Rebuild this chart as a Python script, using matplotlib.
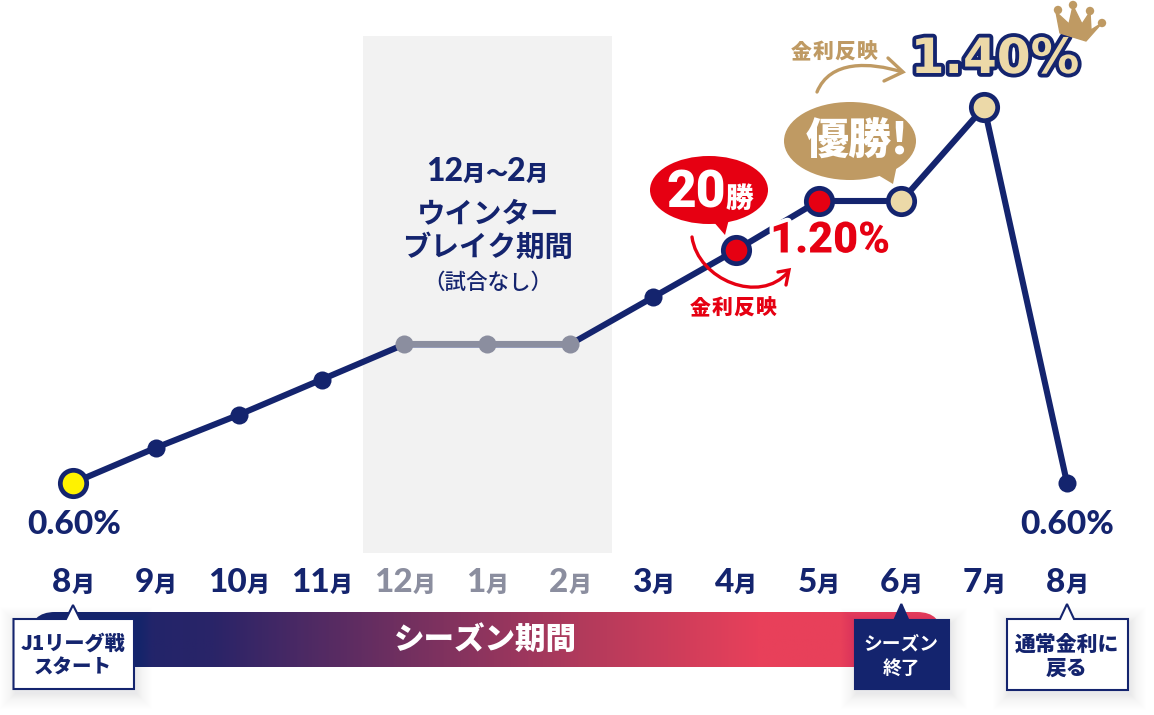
import numpy as np
import matplotlib
matplotlib.use("Agg")
import matplotlib.pyplot as plt
from matplotlib.patches import Rectangle, Ellipse, Polygon, FancyBboxPatch, PathPatch, Circle
from matplotlib.path import Path
from matplotlib.colors import LinearSegmentedColormap
import matplotlib.patheffects as pe

months = ["8", "9", "10", "11", "12", "1", "2", "3", "4", "5", "6", "7", "8"]
rates = [0.60, 0.675, 0.745, 0.82, 0.895, 0.895, 0.895, 0.995, 1.095, 1.20, 1.20, 1.40, 0.60]
winter_idx = [4, 5, 6]
red_idx = [8, 9]
gold_idx = [10, 11]
start_label = "0.60%"
end_label = "0.60%"
mid_label = "1.20%"
peak_label = "1.40%"

NAVY = "#14246e"
GREY = "#8b8e9f"
RED = "#e60012"
GOLD = "#bf9a63"
CREAM = "#ecd9a8"
YELLOW = "#fff200"
JP = ["Noto Sans CJK JP", "DejaVu Sans"]
LAT = ["Lato", "Noto Sans CJK JP"]

W, H = 1154, 715
fig = plt.figure(figsize=(W / 100, H / 100), dpi=100, facecolor="white")
ov = fig.add_axes([0, 0, 1, 1], zorder=0)
ov.axis("off")
ax = fig.add_axes([0, 0, 1, 1], zorder=1)
ax.axis("off")
ax.patch.set_visible(False)

# data axes: month index 0 at x=73px, 12 at x=1067px; 0.60 at y=483px, 1.40 at y=107px
sx = (1067 - 73) / 12
sy = (483 - 107) / 0.8
ax.set_xlim((0 - 73) / sx, (W - 73) / sx)
ax.set_ylim(0.60 - (H - 483) / sy, 0.60 + 483 / sy)
px = ov.transData
x = np.arange(len(rates))
xpx = 73 + x * sx

# gradient season bar (pixel overlay)
cmap = LinearSegmentedColormap.from_list("s", ["#14246e", "#2a2468", "#6e2f60", "#b03a5c", "#e8405a", "#e8405a"])
im = ov.imshow(np.linspace(0, 1, 512)[None, :], cmap=cmap, extent=(30, 942, 667, 612), aspect="auto", zorder=1)
ov.set_xlim(0, W)
ov.set_ylim(H, 0)
clip = FancyBboxPatch((55, 637), 862, 5, boxstyle="round,pad=25,rounding_size=25", transform=ov.transData, fc="none", ec="none")
ov.add_patch(clip)
im.set_clip_path(clip)

# winter band
ax.add_patch(Rectangle((363, 36), 249, 517, transform=px, fc="#f2f2f2", ec="none", zorder=1))

# line and markers
ax.plot(x, rates, color=NAVY, lw=4.4, solid_capstyle="round", zorder=3)
ax.plot(x[winter_idx], np.array(rates)[winter_idx], color=GREY, lw=4.4, zorder=4)
ax.plot(x[winter_idx], np.array(rates)[winter_idx], "o", color=GREY, ms=13, mew=0, zorder=5)
small = [1, 2, 3, 7, 12]
ax.plot(x[small], np.array(rates)[small], "o", color=NAVY, ms=13, mew=0, zorder=5)
ax.plot(x[[0]], np.array(rates)[[0]], "o", mfc=YELLOW, mec=NAVY, mew=3.4, ms=19, zorder=5)
ax.plot(x[red_idx], np.array(rates)[red_idx], "o", mfc=RED, mec=NAVY, mew=3.4, ms=19, zorder=5)
ax.plot(x[gold_idx], np.array(rates)[gold_idx], "o", mfc=CREAM, mec=NAVY, mew=3.4, ms=19, zorder=5)

rend = fig.canvas.get_renderer()


def T(xp, yp, s, size, color=NAVY, family=JP, weight="bold", ha="center", z=8, **kw):
    return ax.text(xp, yp, s, transform=px, fontsize=size, color=color, family=family,
                   fontweight=weight, ha=ha, va="center", zorder=z, clip_on=False, **kw)


def mixed(cx, yb, parts, color=NAVY, z=8, weight="black"):
    """Row of text runs of different sizes on a common baseline, centred on cx."""
    arts = [ax.text(0, yb, s, transform=px, fontsize=sz, color=color, family=fam, fontweight=weight,
                    ha="left", va="baseline", zorder=z) for s, sz, fam in parts]
    ws = [a.get_window_extent(rend).width for a in arts]
    xp = cx - sum(ws) / 2
    for a, w in zip(arts, ws):
        a.set_x(xp)
        xp += w


def spaced(cx, cy, s, size, step, color):
    for i, ch in enumerate(s):
        T(cx + (i - (len(s) - 1) / 2) * step, cy, ch, size, color=color, weight="black")


# month labels
for i, m in enumerate(months):
    c = GREY if i in winter_idx else NAVY
    mixed(xpx[i], 592, [(m, 24, LAT), ("月", 16.5, JP)], color=c)

# value labels
T(74, 524, start_label, 24, family=LAT, weight="black")
T(1067, 524, end_label, 24, family=LAT, weight="black")

# winter text
mixed(487, 181, [("12", 23, LAT), ("月", 16, JP), ("～", 16, JP), ("2", 23, LAT), ("月", 16, JP)])
T(488, 214, "ウインター", 20.5)
T(488, 248, "ブレイク期間", 20.5)
T(488, 283, "（試合なし）", 15.5, weight="medium")

# season bar label
T(485, 639, "シーズン期間", 22, color="white", z=3, weight="black")


def callout(x0, y0, x1, y1, tip, tipy, fc, ec):
    for k in range(16, 0, -1):
        ax.add_patch(Rectangle((x0 + 2 - k, y0 + 4 - k), x1 - x0 + 2 * k, y1 - y0 + 2 * k, transform=px,
                               fc="#14246e", ec="none", alpha=0.0035 if k > 6 else 0.006, zorder=6))
    pts = [(x0, y0), (tip - 7, y0), (tip, tipy), (tip + 7, y0), (x1, y0), (x1, y1), (x0, y1)]
    ax.add_patch(Polygon(pts, closed=True, transform=px, fc=fc, ec=ec, lw=1.5, zorder=7, joinstyle="miter"))


callout(13.5, 619, 134, 689, xpx[0], 605, "white", NAVY)
callout(855, 620, 949, 689, xpx[10], 604, NAVY, NAVY)
callout(1007, 619, 1128, 690, xpx[12], 604, "white", NAVY)
T(73, 644, "J1リーグ戦", 14.5, weight="black")
T(73, 668, "スタート", 14, weight="black")
T(901, 644, "シーズン", 13.5, color="white")
T(901, 668, "終了", 13.5, color="white")
T(1067, 645, "通常金利に", 15, weight="black")
T(1067, 669, "戻る", 15, weight="black")

# speech bubbles
ax.add_patch(Ellipse((709, 190), 118, 68, transform=px, fc=RED, ec="none", zorder=4))
ax.add_patch(Polygon([(712, 220), (725, 235), (730, 215)], transform=px, fc=RED, ec="none", zorder=4))
mixed(710, 207, [("20", 37, ["Roboto"]), ("勝", 20, JP)], color="white")
ax.add_patch(Ellipse((850, 141), 132, 78, transform=px, fc=GOLD, ec="none", zorder=4))
ax.add_patch(Polygon([(873, 172), (893, 184), (897, 165)], transform=px, fc=GOLD, ec="none", zorder=4))
T(857, 141, "優勝!", 31, color="white", weight="black", family=JP)

# 1.20%
T(830, 241, mid_label, 31, color=RED, family=["Roboto"], weight="black",
  path_effects=[pe.withStroke(linewidth=6, foreground="white")], z=6)
# 1.40%
T(995, 59, peak_label, 35, color=CREAM, family=["DejaVu Sans"], weight="bold",
  path_effects=[pe.withStroke(linewidth=5.5, foreground=NAVY)], z=6)

# curved arrows
def arrow(p0, c1, c2, p1, head, color):
    ax.add_patch(PathPatch(Path([p0, c1, c2, p1], [Path.MOVETO, Path.CURVE4, Path.CURVE4, Path.CURVE4]),
                           transform=px, fc="none", ec=color, lw=2.4, capstyle="round", zorder=4))
    ax.add_patch(PathPatch(Path(head, [Path.MOVETO, Path.LINETO, Path.LINETO]), transform=px, fc="none",
                           ec=color, lw=2.4, capstyle="round", joinstyle="miter", zorder=4))


arrow((692, 237), (698, 280), (760, 305), (788, 272), [(778, 272), (789, 270), (786, 285)], RED)
arrow((817, 92), (830, 60), (870, 62), (902, 72), [(888, 58), (903, 72), (884, 81)], GOLD)
spaced(733, 308, "金利反映", 15, 22, RED)
spaced(834, 52, "金利反映", 15, 22, GOLD)

# crown
crown = [(1060, 33), (1056, 12), (1069, 24), (1073, 6), (1082, 24), (1090, 12), (1091, 30), (1102, 23), (1086, 41)]
ax.add_patch(Polygon(crown, transform=px, fc=GOLD, ec=GOLD, lw=1, joinstyle="round", zorder=6))
for c in [(1058, 10), (1073, 5), (1090, 11), (1102, 23)]:
    ax.add_patch(Circle(c, 4.2, transform=px, fc=GOLD, ec="none", zorder=6))

fig.savefig("out.png", dpi=100, facecolor="white")
